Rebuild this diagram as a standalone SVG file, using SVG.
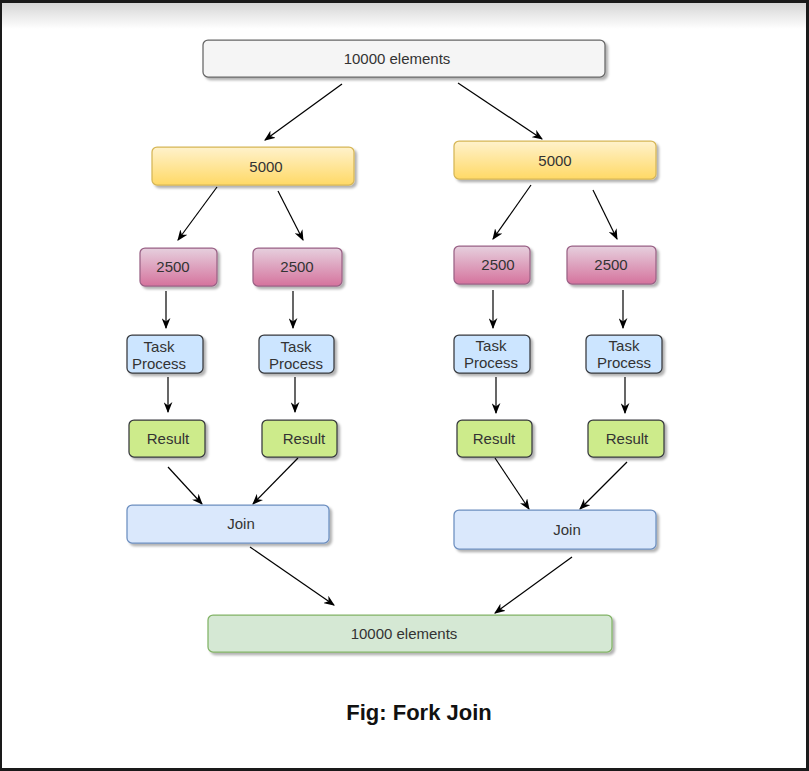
<svg xmlns="http://www.w3.org/2000/svg" width="809" height="771" viewBox="0 0 809 771">
<defs>
<linearGradient id="topfade" x1="0" y1="0" x2="0" y2="1">
<stop offset="0" stop-color="#d6d6d6"/>
<stop offset="1" stop-color="#ffffff"/>
</linearGradient>
<linearGradient id="gYellow" x1="0" y1="0" x2="0" y2="1">
<stop offset="0" stop-color="#fff2cc"/>
<stop offset="1" stop-color="#ffd966"/>
</linearGradient>
<linearGradient id="gPink" x1="0" y1="0" x2="0" y2="1">
<stop offset="0" stop-color="#e6d0de"/>
<stop offset="1" stop-color="#d5739d"/>
</linearGradient>
<filter id="shadow" x="-10%" y="-20%" width="130%" height="160%">
<feDropShadow dx="2.5" dy="2.5" stdDeviation="0.8" flood-color="#000" flood-opacity="0.3"/>
</filter>
<marker id="arr" viewBox="0 0 10 8" refX="9" refY="4" markerWidth="11" markerHeight="9" markerUnits="userSpaceOnUse" orient="auto">
<path d="M0,0 L10,4 L0,8 L3,4 Z" fill="#000"/>
</marker>
</defs>
<style>
.box{filter:url(#shadow);stroke-width:1.25}
.t{font-family:"Liberation Sans",Arial,sans-serif;font-size:15px;fill:#333333;text-anchor:middle}
.grey{fill:#f5f5f5;stroke:#666666}
.yel{fill:url(#gYellow);stroke:#d6b656}
.pink{fill:url(#gPink);stroke:#996185}
.task{fill:#cce5ff;stroke:#36393d}
.res{fill:#cdeb8b;stroke:#36393d}
.join{fill:#dae8fc;stroke:#6c8ebf}
.fin{fill:#d5e8d4;stroke:#82b366}
.c{stroke:#000;stroke-width:1.2;fill:none;marker-end:url(#arr)}
</style>
<rect x="0" y="0" width="809" height="771" fill="#ffffff"/>
<rect x="0" y="3" width="809" height="26" fill="url(#topfade)"/>
<path d="M0,0 H809 V771 H0 Z M2,3 V768 H806 V3 Z" fill="#1a1a1a" fill-rule="evenodd"/>

<g id="connectors">
<line class="c" x1="342" y1="84" x2="265" y2="140"/>
<line class="c" x1="458" y1="83" x2="542" y2="139"/>
<line class="c" x1="217" y1="187" x2="178" y2="240"/>
<line class="c" x1="278" y1="191" x2="303" y2="240"/>
<line class="c" x1="531" y1="185" x2="493" y2="239"/>
<line class="c" x1="593" y1="190" x2="617" y2="239"/>
<line class="c" x1="166" y1="291" x2="166" y2="328"/>
<line class="c" x1="293" y1="291" x2="293" y2="328"/>
<line class="c" x1="493" y1="290" x2="493" y2="328"/>
<line class="c" x1="623" y1="290" x2="623" y2="328"/>
<line class="c" x1="168" y1="377" x2="168" y2="412"/>
<line class="c" x1="295" y1="377" x2="295" y2="412"/>
<line class="c" x1="496" y1="377" x2="496" y2="413"/>
<line class="c" x1="625" y1="377" x2="625" y2="413"/>
<line class="c" x1="168" y1="467" x2="202" y2="504"/>
<line class="c" x1="298" y1="458" x2="253" y2="504"/>
<line class="c" x1="495" y1="458" x2="529" y2="509"/>
<line class="c" x1="627" y1="462" x2="580" y2="509"/>
<line class="c" x1="250" y1="547" x2="334" y2="605"/>
<line class="c" x1="572" y1="557" x2="495" y2="613"/>
</g>

<g id="n-top"><rect class="box grey" x="203" y="40" width="402" height="37" rx="5"/><text class="t" x="397" y="64">10000 elements</text></g>
<g id="n-5000-left"><rect class="box yel" x="152" y="147" width="202" height="38" rx="5"/><text class="t" x="266" y="172">5000</text></g>
<g id="n-5000-right"><rect class="box yel" x="454" y="141" width="202" height="38" rx="5"/><text class="t" x="555" y="166">5000</text></g>
<g id="n-2500-a"><rect class="box pink" x="140" y="248" width="77" height="38" rx="5"/><text class="t" x="173" y="272">2500</text></g>
<g id="n-2500-b"><rect class="box pink" x="253" y="248" width="89" height="38" rx="5"/><text class="t" x="297" y="272">2500</text></g>
<g id="n-2500-c"><rect class="box pink" x="454" y="246" width="76" height="38" rx="5"/><text class="t" x="498" y="270">2500</text></g>
<g id="n-2500-d"><rect class="box pink" x="567" y="246" width="89" height="38" rx="5"/><text class="t" x="611" y="270">2500</text></g>
<g id="n-task-a"><rect class="box task" x="127" y="335" width="76" height="38" rx="5"/><text class="t" x="159" y="352">Task</text><text class="t" x="159" y="369">Process</text></g>
<g id="n-task-b"><rect class="box task" x="259" y="335" width="75" height="38" rx="5"/><text class="t" x="296" y="352">Task</text><text class="t" x="296" y="369">Process</text></g>
<g id="n-task-c"><rect class="box task" x="454" y="335" width="76" height="38" rx="5"/><text class="t" x="491" y="351">Task</text><text class="t" x="491" y="368">Process</text></g>
<g id="n-task-d"><rect class="box task" x="586" y="335" width="76" height="38" rx="5"/><text class="t" x="624" y="351">Task</text><text class="t" x="624" y="368">Process</text></g>
<g id="n-res-a"><rect class="box res" x="129" y="420" width="76" height="37" rx="5"/><text class="t" x="168" y="444">Result</text></g>
<g id="n-res-b"><rect class="box res" x="262" y="420" width="75" height="37" rx="5"/><text class="t" x="304" y="444">Result</text></g>
<g id="n-res-c"><rect class="box res" x="457" y="420" width="75" height="37" rx="5"/><text class="t" x="494" y="444">Result</text></g>
<g id="n-res-d"><rect class="box res" x="588" y="420" width="76" height="37" rx="5"/><text class="t" x="627" y="444">Result</text></g>
<g id="n-join-left"><rect class="box join" x="127" y="505" width="202" height="38" rx="5"/><text class="t" x="241" y="529">Join</text></g>
<g id="n-join-right"><rect class="box join" x="454" y="510" width="202" height="39" rx="5"/><text class="t" x="567" y="535">Join</text></g>
<g id="n-bottom"><rect class="box fin" x="208" y="615" width="404" height="37" rx="5"/><text class="t" x="404" y="639">10000 elements</text></g>
<text x="419" y="720" font-family="Liberation Sans,Arial,sans-serif" font-size="22" font-weight="bold" fill="#111" text-anchor="middle">Fig: Fork Join</text>
</svg>
